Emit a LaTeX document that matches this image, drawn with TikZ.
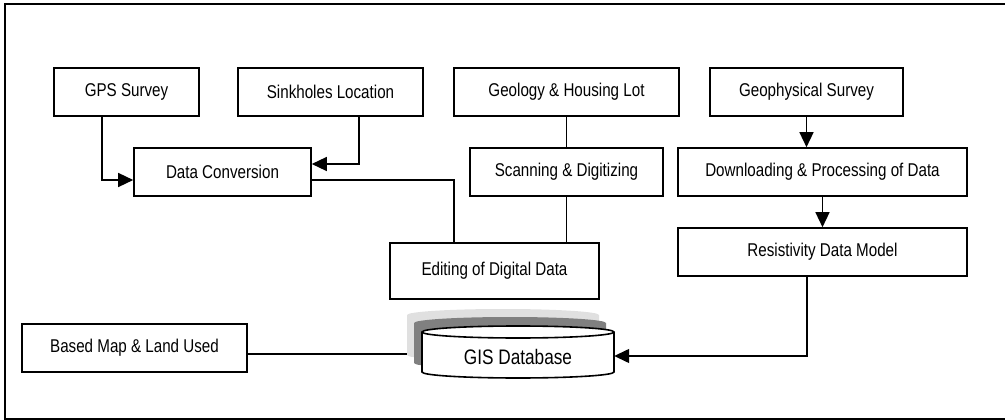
\documentclass[tikz,border=0pt]{standalone}
\usepackage{fontspec}
\setmainfont[FakeStretch=0.82]{Liberation Sans}
\usetikzlibrary{arrows.meta,calc}
\begin{document}
\begin{tikzpicture}[x=1pt,y=-1pt,
  box/.style={draw, line width=1.6pt, inner sep=0pt, minimum height=48pt, font=\fontsize{18.5}{22}\selectfont},
  conn/.style={line width=1.4pt},
  arr/.style={conn, -{Triangle[length=15pt,width=14pt]}},
  cylr/.style={x radius=96, y radius=6}]
\useasboundingbox (0,0) rectangle (1005,420);
\draw[line width=1.6pt] (1010,4) -- (5,4) -- (5,419) -- (1010,419);

\node[box, minimum width=145pt] (gps) at (126.5,92) {GPS Survey};
\node[box, minimum width=185pt] (sink) at (330.5,92) {Sinkholes Location};
\node[box, minimum width=225pt] (geo) at (566.5,92) {Geology \& Housing Lot};
\node[box, minimum width=193pt] (geoph) at (806.5,92) {Geophysical Survey};
\node[box, minimum width=177pt] (conv) at (222.5,172) {Data Conversion};
\node[box, minimum width=193pt] (scan) at (566.5,172) {Scanning \& Digitizing};
\node[box, minimum width=289pt] (down) at (822.5,172) {Downloading \& Processing of Data};
\node[box, minimum width=209pt, minimum height=56pt] (edit) at (494.5,271) {Editing of Digital Data};
\node[box, minimum width=289pt] (resist) at (822.5,252) {Resistivity Data Model};
\node[box, minimum width=225pt] (based) at (134.5,348) {Based Map \& Land Used};

% database cylinder with shadows
\fill[black!12] (407,315) arc[start angle=180,end angle=360,cylr] -- (599,355) arc[start angle=0,end angle=180,cylr] -- cycle;
\fill[black!50] (414,323) arc[start angle=180,end angle=360,cylr] -- (606,363) arc[start angle=0,end angle=180,cylr] -- cycle;
\draw[fill=white, line width=1.6pt] (422,332) arc[start angle=180,end angle=360,cylr] -- (614,372) arc[start angle=0,end angle=180,cylr] -- cycle;
\draw[line width=1.6pt] (422,332) arc[start angle=180,end angle=0,cylr];
\node[inner sep=0pt, minimum width=192pt, minimum height=40pt, font=\fontsize{21}{25}\selectfont] (gis) at (518,357) {GIS Database};
\coordinate (shl) at (407,354);

% connectors
\draw[arr] ($(gps.south)+(-24.5,0)$) |- ($(conv.west)+(0,8)$);
\draw[arr] ($(sink.south)+(28.5,0)$) |- ($(conv.east)+(0,-8)$);
\draw[conn] ($(conv.east)+(0,8)$) -| ($(edit.north)+(-40.5,0)$);
\draw[conn] (geo.south) -- (scan.north);
\draw[conn] (scan.south) -- (scan.south |- edit.north);
\draw[arr] (geoph.south) -- (geoph.south |- down.north);
\draw[arr] (down.south) -- (resist.north);
\draw[arr] ($(resist.south)+(-15.5,0)$) |- ($(gis.east)+(0,-1)$);
\draw[conn] ($(based.east)+(0,6)$) -- (shl);
\end{tikzpicture}
\end{document}
